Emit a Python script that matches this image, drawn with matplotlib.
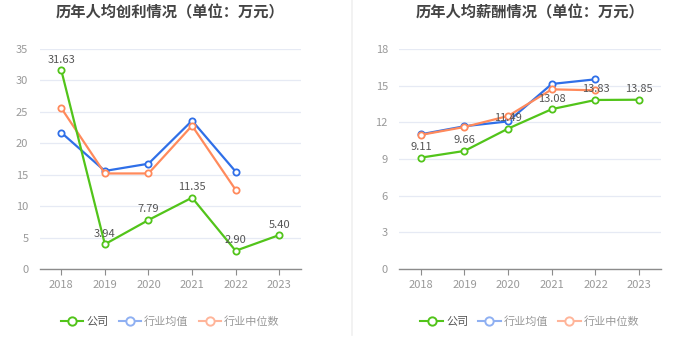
"""Per-capita profit and salary charts (company vs industry)."""

import matplotlib
matplotlib.use("Agg")
import matplotlib.pyplot as plt
from matplotlib.lines import Line2D

plt.rcParams['font.family'] = ['Noto Sans CJK SC', 'DejaVu Sans']

years = ['2018', '2019', '2020', '2021', '2022', '2023']

# 历年人均创利
profit_company = [31.63, 3.94, 7.79, 11.35, 2.90, 5.40]
profit_avg = [21.7, 15.6, 16.75, 23.6, 15.5]
profit_median = [25.6, 15.2, 15.2, 22.8, 12.6]

# 历年人均薪酬
salary_company = [9.11, 9.66, 11.49, 13.08, 13.83, 13.85]
salary_avg = [11.02, 11.68, 12.08, 15.14, 15.52]
salary_median = [10.97, 11.62, 12.52, 14.70, 14.62]

GREEN = '#52c41a'
BLUE = '#2f6fe8'
ORANGE = '#ff8a5c'

W, H = 700, 360
fig = plt.figure(figsize=(7, 3.6), dpi=100)
fig.patch.set_facecolor('white')


def px_axes(x0, x1, y_top, y_bot):
    return fig.add_axes([x0 / W, 1 - y_bot / H, (x1 - x0) / W, (y_bot - y_top) / H])


def draw_panel(ax, title, company, avg, median, ymax, step):
    xs = list(range(len(years)))
    style = dict(marker='o', markersize=4.5, markerfacecolor='white',
                 markeredgewidth=1.3, linewidth=1.6, clip_on=False)
    ax.plot(xs[:len(avg)], avg, color=BLUE, zorder=3, **style)
    ax.plot(xs[:len(median)], median, color=ORANGE, zorder=3, **style)
    ax.plot(xs, company, color=GREEN, zorder=4, **style)
    for x, v in zip(xs, company):
        ax.annotate(f'{v:.2f}', (x, v), xytext=(0, 4), textcoords='offset points',
                    ha='center', va='bottom', fontsize=8, color='#555555', zorder=5)

    ax.set_xlim(-0.5, len(years) - 0.5)
    ax.set_ylim(0, ymax)
    ax.set_yticks([i * step for i in range(int(ymax / step) + 1)])
    ax.set_xticks(xs)
    ax.set_xticklabels(years)
    ax.grid(axis='y', color='#e6eaf4', linewidth=0.9)
    ax.set_axisbelow(True)
    for s in ['top', 'right', 'left']:
        ax.spines[s].set_visible(False)
    ax.spines['bottom'].set_color('#8c8c8c')
    ax.spines['bottom'].set_linewidth(1.0)
    ax.tick_params(axis='y', length=0, labelsize=8, labelcolor='#999999', pad=8)
    ax.tick_params(axis='x', length=4, color='#8c8c8c', labelsize=8,
                   labelcolor='#999999', pad=4)
    ax.set_facecolor('none')

    # title placed in figure pixels so it is not clipped
    bb = ax.get_position()
    fig.text((bb.x0 + bb.x1) / 2, 1 - 12 / H, title, ha='center', va='center',
             fontsize=11, fontweight='bold', color='#444444')

    hstyle = dict(marker='o', markersize=6, markerfacecolor='white',
                  markeredgewidth=1.4, linewidth=1.5)
    handles = [
        Line2D([], [], color=GREEN, **hstyle),
        Line2D([], [], color='#8fb0f2', **hstyle),
        Line2D([], [], color='#ffb59a', **hstyle),
    ]
    leg = fig.legend(handles, ['公司', '行业均值', '行业中位数'], loc='center',
                     bbox_to_anchor=((bb.x0 + bb.x1) / 2, 1 - 322 / H), ncol=3,
                     frameon=False, fontsize=8, handlelength=2.0, handletextpad=0.3,
                     columnspacing=0.9)
    colors = ['#555555', '#999999', '#999999']
    for t, c in zip(leg.get_texts(), colors):
        t.set_color(c)


ax1 = px_axes(39.5, 301, 49, 269)
draw_panel(ax1, '历年人均创利情况（单位：万元）', profit_company, profit_avg, profit_median,
           35, 5)

ax2 = px_axes(399, 661, 49, 269)
draw_panel(ax2, '历年人均薪酬情况（单位：万元）', salary_company, salary_avg, salary_median,
           18, 3)

fig.add_artist(Line2D([352 / W, 352 / W], [1 - 335 / H, 1.0], color='#f0f0f0', linewidth=1.2))

fig.savefig('out.png', dpi=100, facecolor='white')
